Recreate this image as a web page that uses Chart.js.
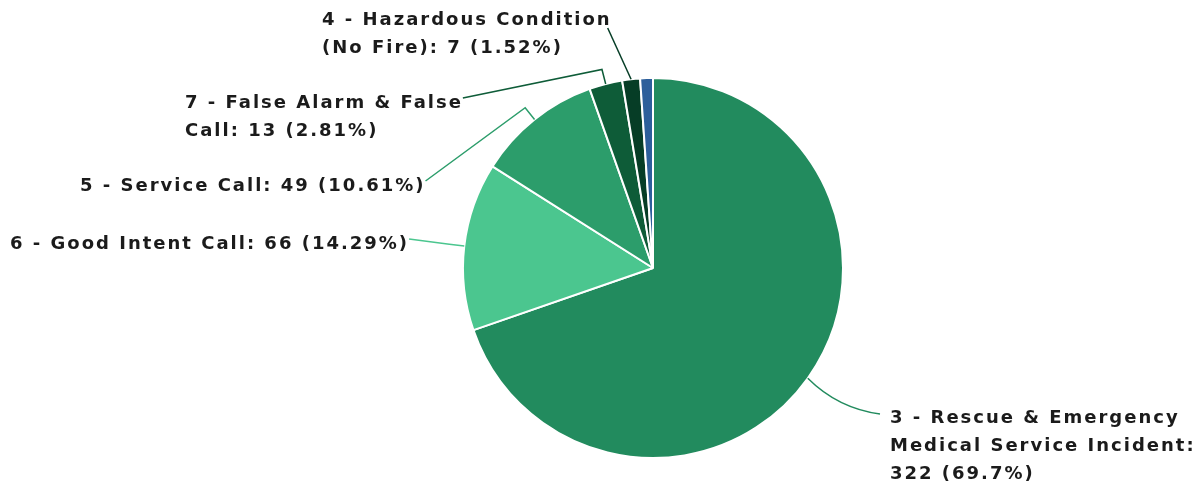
<!DOCTYPE html>
<html>
<head>
<meta charset="utf-8">
<script src="https://cdn.jsdelivr.net/npm/chart.js@4.4.1/dist/chart.umd.min.js"></script>
<style>
  html, body { margin: 0; padding: 0; background: #fff; }
  #wrap { width: 1201px; height: 488px; position: relative; }
</style>
</head>
<body>
<div id="wrap"><canvas id="incidentChart" width="1201" height="488"></canvas></div>
<script>
// incident types, clockwise from 12 o'clock
const categories = [
    '3 - Rescue & Emergency Medical Service Incident',
    '6 - Good Intent Call',
    '5 - Service Call',
    '7 - False Alarm & False Call',
    '4 - Hazardous Condition (No Fire)',
    'Other'
];
const counts = [322, 66, 49, 13, 7, 5];
const percents = ['69.7', '14.29', '10.61', '2.81', '1.52', '1.08'];
const showLabel = [true, true, true, true, true, false];

const sliceColors = ['#228b5e', '#4bc68f', '#2c9d6b', '#0e5c38', '#063d26', '#2d5f9b'];

// where each label box sits (left x, first line middle y) and wrap width
const labelLayout = [
    { x: 890, y: 418, wrap: 320, side: 'right' },
    { x: 10, y: 244, wrap: 420, side: 'left' },
    { x: 80, y: 186, wrap: 420, side: 'left' },
    { x: 185, y: 103, wrap: 300, side: 'left' },
    { x: 322, y: 20, wrap: 320, side: 'top' },
    null
];

const labelFont = 'bold 18px "DejaVu Sans", sans-serif';
const labelSpacing = '2px';
const lineHeight = 28;

function wrapText(ctx, text, maxWidth) {
    const words = text.split(' ');
    const lines = [];
    let line = '';
    words.forEach(w => {
        const test = line ? line + ' ' + w : w;
        if (line && ctx.measureText(test).width > maxWidth) {
            lines.push(line);
            line = w;
        } else {
            line = test;
        }
    });
    if (line) lines.push(line);
    return lines;
}

const pieLabels = {
    id: 'pieLabels',
    afterDraw(chart) {
        const ctx = chart.ctx;
        const arcs = chart.getDatasetMeta(0).data;
        ctx.save();
        ctx.font = labelFont;
        ctx.letterSpacing = labelSpacing;
        ctx.textBaseline = 'middle';
        ctx.textAlign = 'left';
        arcs.forEach((arc, i) => {
            const pos = labelLayout[i];
            if (!showLabel[i] || !pos) return;
            const text = categories[i] + ': ' + counts[i] + ' (' + percents[i] + '%)';
            const lines = wrapText(ctx, text, pos.wrap);

            // connector from slice edge midpoint to label
            const mid = (arc.startAngle + arc.endAngle) / 2;
            const r = arc.outerRadius;
            const ex = arc.x + Math.cos(mid) * r;
            const ey = arc.y + Math.sin(mid) * r;
            const bx = arc.x + Math.cos(mid) * (r + 15);
            const by = arc.y + Math.sin(mid) * (r + 15);
            const firstW = ctx.measureText(lines[0]).width;
            ctx.strokeStyle = sliceColors[i];
            ctx.lineWidth = 1.5;
            ctx.beginPath();
            ctx.moveTo(ex, ey);
            if (pos.side === 'right') {
                const tx = pos.x - 10, ty = pos.y - 4;
                ctx.quadraticCurveTo(ex + 30, ey + 30, tx, ty);
            } else if (pos.side === 'top') {
                ctx.lineTo(pos.x + firstW - 4, pos.y + 8);
            } else {
                ctx.lineTo(bx, by);
                ctx.lineTo(pos.x + firstW, pos.y - 5);
            }
            ctx.stroke();

            ctx.fillStyle = '#1b1b1b';
            lines.forEach((ln, k) => {
                ctx.fillText(ln, pos.x, pos.y + k * lineHeight);
            });
        });
        ctx.restore();
    }
};

const ctx = document.getElementById('incidentChart').getContext('2d');
new Chart(ctx, {
    type: 'pie',
    data: {
        labels: categories,
        datasets: [{
            data: counts,
            backgroundColor: sliceColors,
            borderColor: '#ffffff',
            borderWidth: 2
        }]
    },
    options: {
        responsive: false,
        animation: false,
        layout: {
            padding: { top: 77, bottom: 29, left: 462, right: 357 }
        },
        plugins: {
            legend: { display: false },
            tooltip: { enabled: false }
        }
    },
    plugins: [pieLabels]
});
</script>
</body>
</html>
